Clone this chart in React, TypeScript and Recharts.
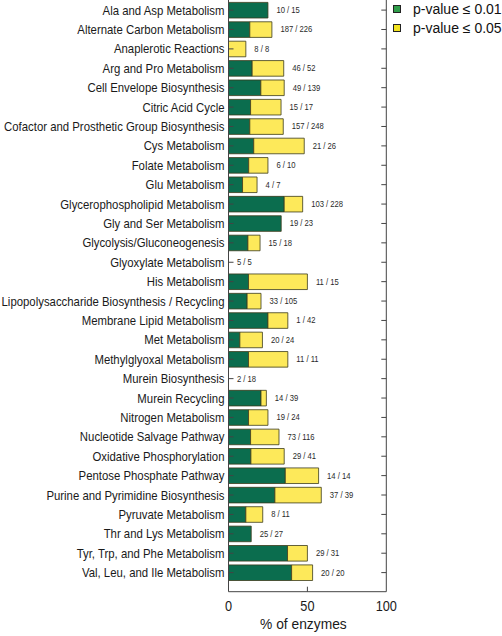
import { Bar, ComposedChart, LabelList, Line, XAxis, YAxis } from "recharts";

const categories = [
  "Ala and Asp Metabolism",
  "Alternate Carbon Metabolism",
  "Anaplerotic Reactions",
  "Arg and Pro Metabolism",
  "Cell Envelope Biosynthesis",
  "Citric Acid Cycle",
  "Cofactor and Prosthetic Group Biosynthesis",
  "Cys Metabolism",
  "Folate Metabolism",
  "Glu Metabolism",
  "Glycerophospholipid Metabolism",
  "Gly and Ser Metabolism",
  "Glycolysis/Gluconeogenesis",
  "Glyoxylate Metabolism",
  "His Metabolism",
  "Lipopolysaccharide Biosynthesis / Recycling",
  "Membrane Lipid Metabolism",
  "Met Metabolism",
  "Methylglyoxal Metabolism",
  "Murein Biosynthesis",
  "Murein Recycling",
  "Nitrogen Metabolism",
  "Nucleotide Salvage Pathway",
  "Oxidative Phosphorylation",
  "Pentose Phosphate Pathway",
  "Purine and Pyrimidine Biosynthesis",
  "Pyruvate Metabolism",
  "Thr and Lys Metabolism",
  "Tyr, Trp, and Phe Metabolism",
  "Val, Leu, and Ile Metabolism",
];

// % of enzymes with p-value <= 0.01
const p01 = [
  25, 13.5, 0, 15, 20.5, 14, 13.5, 16, 12.8, 8.9, 35.3, 33.4, 12.3, 0, 12.7,
  11.8, 25, 7.2, 12.7, 0, 20.6, 12.7, 14, 14.2, 36, 29.4, 11, 14.4, 37.4, 40,
];

// extra % with 0.01 < p-value <= 0.05
const p05 = [
  0, 14, 11, 20, 14.8, 19.3, 21.2, 32, 12.2, 9.2, 11.7, 0, 7.7, 0, 37.3, 8.8,
  12.6, 14.3, 24.9, 0, 3.4, 12.3, 18, 21.1, 21.1, 29.4, 10.7, 0, 12.6, 13.3,
];

const counts = [
  "10 / 15", "187 / 226", "8 / 8", "46 / 52", "49 / 139", "15 / 17",
  "157 / 248", "21 / 26", "6 / 10", "4 / 7", "103 / 228", "19 / 23",
  "15 / 18", "5 / 5", "11 / 15", "33 / 105", "1 / 42", "20 / 24", "11 / 11",
  "2 / 18", "14 / 39", "19 / 24", "73 / 116", "29 / 41", "14 / 14",
  "37 / 39", "8 / 11", "25 / 27", "29 / 31", "20 / 20",
];

const xTicks = [0, 50, 100];

const data = categories.map((name, i) => ({
  name,
  p01: p01[i],
  p05: p05[i],
  total: p01[i] + p05[i],
  label: counts[i],
}));

const GREEN = "#0b6d4e";
const YELLOW = "#fde95a";
const EDGE = "#3b3b1c";
const FONT = "'Liberation Sans', Arial, Helvetica, sans-serif";

function CategoryTick({ x, y, payload }: any) {
  return (
    <g>
      <line x1={x} x2={x + 5} y1={y} y2={y} stroke="#444" strokeWidth={1} />
      <text
        transform={`translate(${x - 4},${y}) scale(0.91,1)`}
        textAnchor="end"
        dy="0.36em"
        fontSize={12.5}
        fontFamily={FONT}
        fill="#1a1a1a"
      >
        {payload.value}
      </text>
    </g>
  );
}

function RightTick({ x, y }: any) {
  return <line x1={x - 5} x2={x} y1={y} y2={y} stroke="#444" strokeWidth={1} />;
}

function BottomTick({ x, y, payload }: any) {
  return (
    <g>
      {payload.value === 50 && (
        <line x1={x} x2={x} y1={y - 5} y2={y} stroke="#444" strokeWidth={1} />
      )}
      <text
        transform={`translate(${x},${y + 19.3}) scale(0.85,1)`}
        textAnchor="middle"
        fontSize={15}
        fontFamily={FONT}
        fill="#1a1a1a"
      >
        {payload.value}
      </text>
    </g>
  );
}

function TopTick({ x, y, payload }: any) {
  if (payload.value !== 50) return null;
  return <line x1={x} x2={x} y1={y} y2={y + 5} stroke="#444" strokeWidth={1} />;
}

function AxisTitle({ viewBox }: any) {
  const cx = viewBox.x + viewBox.width / 2 - 4;
  return (
    <text
      transform={`translate(${cx},${viewBox.y + 37.5}) scale(0.92,1)`}
      textAnchor="middle"
      fontSize={15}
      fontFamily={FONT}
      fill="#1a1a1a"
    >
      % of enzymes
    </text>
  );
}

function CountLabel({ x, y, value }: any) {
  return (
    <text
      transform={`translate(${x + 8.5},${y}) scale(0.9,1)`}
      dy="0.35em"
      fontSize={8.5}
      fontFamily={FONT}
      fill="#2a2a2a"
    >
      {value}
    </text>
  );
}

function LegendBox() {
  const items = [
    { color: "#2f9d4a", text: "p-value \u2264 0.01" },
    { color: "#f2e31f", text: "p-value \u2264 0.05" },
  ];
  return (
    <div
      style={{
        position: "absolute",
        left: 393,
        top: -1,
        fontFamily: FONT,
        fontSize: 14,
        color: "#111",
      }}
    >
      {items.map((it) => (
        <div
          key={it.text}
          style={{ display: "flex", alignItems: "center", height: 19.5 }}
        >
          <span
            style={{
              width: 6,
              height: 6,
              background: it.color,
              border: "1px solid #222",
              marginRight: 12,
            }}
          />
          <span style={{ whiteSpace: "nowrap" }}>{it.text}</span>
        </div>
      ))}
    </div>
  );
}

export default function App() {
  return (
    <div
      style={{
        position: "absolute",
        left: 0,
        top: 0,
        width: 502,
        height: 636,
        background: "#fff",
      }}
    >
      <ComposedChart
        width={502}
        height={636}
        data={data}
        layout="vertical"
        margin={{ top: 0, right: 114.7, bottom: 0, left: 0 }}
        barSize={15.6}
      >
        <XAxis
          type="number"
          domain={[0, 100]}
          ticks={xTicks}
          interval={0}
          height={44.3}
          axisLine={{ stroke: "#444" }}
          tickLine={false}
          tickSize={0}
          tickMargin={0}
          tick={<BottomTick />}
          label={<AxisTitle />}
        />
        <XAxis
          xAxisId="top"
          orientation="top"
          type="number"
          domain={[0, 100]}
          ticks={xTicks}
          interval={0}
          height={0}
          axisLine={false}
          tickLine={false}
          tickSize={0}
          tickMargin={0}
          tick={<TopTick />}
        />
        <YAxis
          type="category"
          dataKey="name"
          width={228.5}
          padding={{ top: 0.4, bottom: 9.4 }}
          axisLine={{ stroke: "#444" }}
          tickLine={false}
          tickSize={0}
          tickMargin={0}
          interval={0}
          tick={<CategoryTick />}
        />
        <YAxis
          yAxisId="right"
          orientation="right"
          type="category"
          dataKey="name"
          width={1}
          padding={{ top: 0.4, bottom: 9.4 }}
          axisLine={{ stroke: "#444" }}
          tickLine={false}
          tickSize={0}
          tickMargin={0}
          interval={0}
          tick={<RightTick />}
        />
        <Bar
          dataKey="p01"
          stackId="a"
          fill={GREEN}
          stroke={EDGE}
          strokeWidth={0.8}
          isAnimationActive={false}
        />
        <Bar
          dataKey="p05"
          stackId="a"
          fill={YELLOW}
          stroke={EDGE}
          strokeWidth={0.8}
          isAnimationActive={false}
        />
        <Line
          dataKey="total"
          stroke="none"
          dot={false}
          activeDot={false}
          isAnimationActive={false}
        >
          <LabelList dataKey="label" content={<CountLabel />} />
        </Line>
      </ComposedChart>
      <LegendBox />
    </div>
  );
}
